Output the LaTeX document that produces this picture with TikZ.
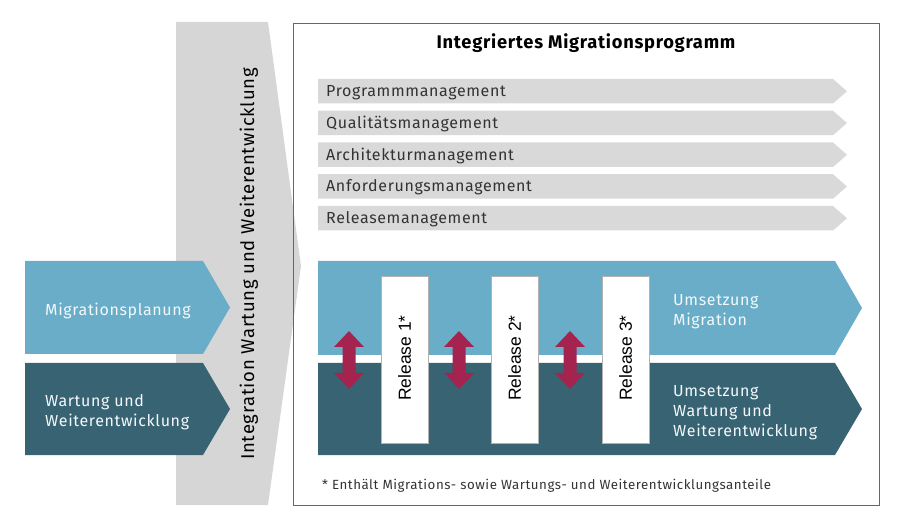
\documentclass[tikz,border=0pt]{standalone}
\usepackage{fontspec}
\setmainfont{Fira Sans}[LetterSpace=4]
\newfontfamily\relfont{Liberation Sans}
\usepackage{tikz}
\usetikzlibrary{
	arrows.meta,
	positioning
	}
\definecolor{migblue}{HTML}{6AADC9}
\definecolor{wartdark}{HTML}{376373}
\definecolor{crimson}{HTML}{A4234F}
\definecolor{barGray}{HTML}{D9D9D9}
\definecolor{bandGray}{HTML}{D6D6D6}
\definecolor{txtGray}{HTML}{333333}

\begin{document}
\begin{tikzpicture}[
                x=1pt,y=-1pt,
                band/.style={fill=bandGray},
                bar/.style={fill=barGray},
                mig/.style={fill=migblue},
                wart/.style={fill=wartdark},
                frame/.style={draw=gray!80!black,line width=0.8pt},
                release/.style={draw=gray!60,fill=white,line width=0.6pt},
                swap/.style={fill=crimson},
                bartext/.style={anchor=west,text=txtGray,font=\fontsize{16}{18}\selectfont,inner sep=0pt},
                lighttext/.style={anchor=west,align=left,text=white!92!migblue,font=\fontsize{16}{20}\selectfont,inner sep=0pt},
                reltext/.style={rotate=90,text=black,font=\relfont\fontsize{17.5}{18}\selectfont,inner sep=0pt},
            ]
                \useasboundingbox (0,0) rectangle (900,529);

                \def\tipx{14}
                \def\barh{24.5}

                %% Vertical band: integration
                \fill[band] (176,22) -- (268,22) -- (301,266) -- (268,505) -- (176,505) -- cycle;
                \node[rotate=90,text=black,font=\fontsize{18.5}{20}\selectfont,inner sep=0pt] (integ)
                    at (249,264) {Integration Wartung und Weiterentwicklung};

                %% Left arrows
                \fill[mig] (25,261) -- (203,261) -- (230,307.5) -- (203,354) -- (25,354) -- cycle;
                \node[lighttext] (planung) at (45,311) {Migrationsplanung};
                \fill[wart] (25,363) -- (203,363) -- (230,409) -- (203,455) -- (25,455) -- cycle;
                \node[lighttext] (wartung) at (45,412) {Wartung und\\Weiterentwicklung};

                %% Frame of the programme
                \draw[frame] (293,23) rectangle (879,505);
                \node[font=\bfseries\fontsize{18.3}{20}\selectfont,inner sep=0pt] (title) at (586,43) {Integriertes Migrationsprogramm};

                % Management bars
                \foreach \txt [count=\i] in {Programmmanagement,Qualitätsmanagement,Architekturmanagement,Anforderungsmanagement,Releasemanagement}{
                    \pgfmathsetmacro{\yt}{79+(\i-1)*31.75}
                    \fill[bar] (318,\yt) -- (833,\yt) -- (833+\tipx,\yt+0.5*\barh) -- (833,\yt+\barh) -- (318,\yt+\barh) -- cycle;
                    \node[bartext] (bar\i) at (326,\yt+0.5*\barh+1) {\txt};
                }

                % Umsetzung bands
                \fill[mig] (318,261) -- (835,261) -- (862,308) -- (835,355) -- (318,355) -- cycle;
                \node[lighttext] (umsmig) at (673,312) {Umsetzung\\Migration};
                \fill[wart] (318,363) -- (835,363) -- (862,409) -- (835,455) -- (318,455) -- cycle;
                \node[lighttext] (umswart) at (673,413) {Umsetzung\\Wartung und\\Weiterentwicklung};

                % Releases
                \foreach \rx/\n in {381/1,491/2,602/3}{
                    \draw[release] (\rx,276) rectangle (\rx+47,443);
                    \node[reltext] (rel\n) at (\rx+23.5,358) {Release \n*};
                }

                % Double arrows between the bands
                \foreach \ax [count=\k] in {349,459,570}{
                    \fill[swap] (\ax,331) -- (\ax+15,347) -- (\ax+6.5,347) -- (\ax+6.5,373) -- (\ax+15,373)
                        -- (\ax,389) -- (\ax-15,373) -- (\ax-6.5,373) -- (\ax-6.5,347) -- (\ax-15,347) -- cycle;
                }

                %% Footnote
                \node[anchor=west,text=txtGray,font=\fontsize{13.3}{15}\selectfont,inner sep=0pt] (note)
                    at (322,486) {* Enthält Migrations- sowie Wartungs- und Weiterentwicklungsanteile};

            \end{tikzpicture}
\end{document}
